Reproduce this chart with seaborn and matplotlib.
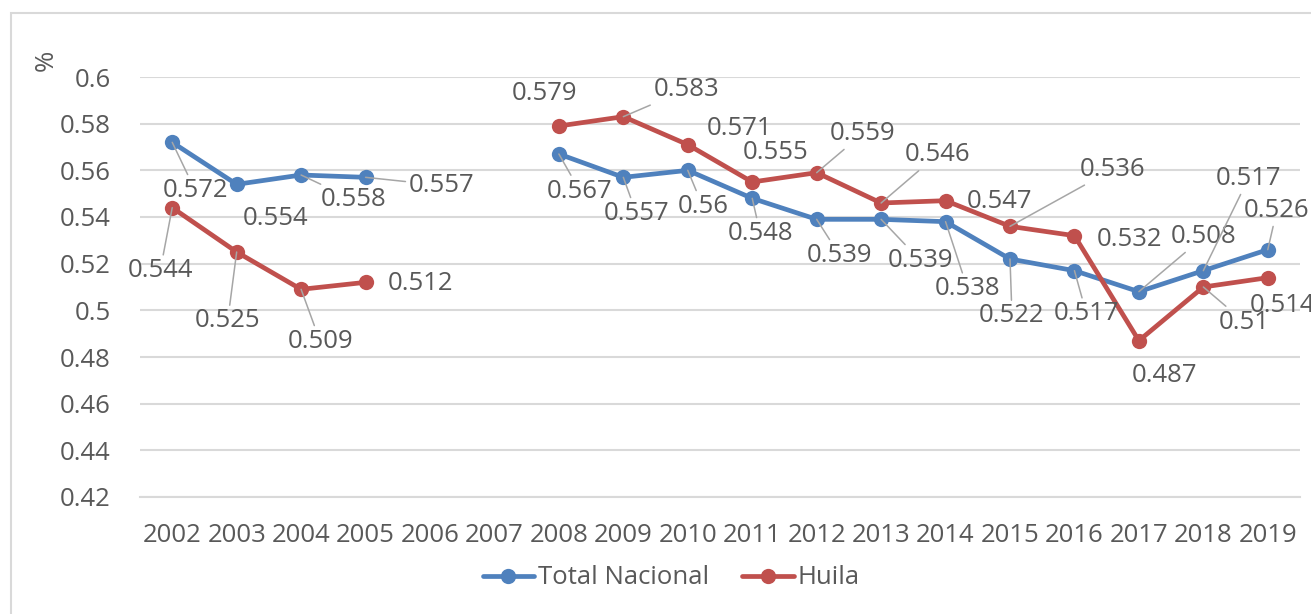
import pandas as pd
import matplotlib.pyplot as plt
from matplotlib.lines import Line2D
from matplotlib.patches import Rectangle
import seaborn as sns

# Data (2006 and 2007 have no values)
years = list(range(2002, 2020))
total_nacional = [0.572, 0.554, 0.558, 0.557, None, None, 0.567, 0.557, 0.56,
                  0.548, 0.539, 0.539, 0.538, 0.522, 0.517, 0.508, 0.517, 0.526]
huila = [0.544, 0.525, 0.509, 0.512, None, None, 0.579, 0.583, 0.571,
         0.555, 0.559, 0.546, 0.547, 0.536, 0.532, 0.487, 0.51, 0.514]
series_names = ["Total Nacional", "Huila"]
y_ticks = [0.42, 0.44, 0.46, 0.48, 0.5, 0.52, 0.54, 0.56, 0.58, 0.6]

# -----------------------
# label placement (pixel offsets from each point, leader line yes/no)
# -----------------------
total_offsets = [(23, -48, 1), (39, -34, 0), (53, -25, 1), (76, -8, 1), None, None,
                 (21, -37, 1), (13, -36, 1), (15, -36, 1), (8, -35, 1), (23, -36, 1),
                 (39, -41, 1), (22, -67, 1), (2, -57, 1), (12, -43, 1), (65, 55, 1),
                 (45, 92, 1), (9, 39, 1)]
huila_offsets = [(-12, -63, 1), (-9, -69, 1), (19, -52, 1), (55, -1, 0), None, None,
                 (-14, 33, 0), (63, 27, 1), (52, 16, 0), (23, 29, 0), (46, 39, 1),
                 (56, 48, 1), (54, -1, 0), (103, 57, 1), (55, -4, 0), (26, -35, 0),
                 (41, -35, 1), (15, -28, 0)]

colors = {"Total Nacional": "#4F81BD", "Huila": "#C0504D"}
text_color = "#595959"
grid_color = "#D9D9D9"
fs = 18.5

# long table, with a segment id so the gap 2006-2007 is not bridged
rows = []
for name, vals in zip(series_names, [total_nacional, huila]):
    for yr, v in zip(years, vals):
        if v is None:
            continue
        rows.append({"year": yr, "value": v, "serie": name,
                     "segment": f"{name}-{'a' if yr < 2006 else 'b'}"})
df = pd.DataFrame(rows)

sns.set_style("white")
plt.rcParams["font.family"] = ["Open Sans", "DejaVu Sans"]

fig = plt.figure(figsize=(13.11, 6.14), dpi=100)
ax = fig.add_axes([140 / 1311, 1 - 497 / 614, 1160 / 1311, 420 / 614])

sns.lineplot(data=df, x="year", y="value", hue="serie", units="segment",
             estimator=None, palette=colors, hue_order=series_names,
             marker="o", markersize=11, markeredgewidth=0, linewidth=3.4,
             legend=False, ax=ax, zorder=3)

ax.set_xlim(2001.5, 2019.5)
ax.set_ylim(0.42, 0.6)
ax.set_yticks(y_ticks)
ax.set_yticklabels([f"{t:g}" for t in y_ticks])
ax.set_xticks(years)
ax.set_xticklabels([str(y) for y in years])
ax.set_xticks([y - 0.5 for y in years] + [years[-1] + 0.5], minor=True)
ax.tick_params(axis="x", which="major", length=0, pad=19, labelsize=fs, colors=text_color)
ax.tick_params(axis="x", which="minor", length=7, width=1.5, color=grid_color, direction="out")
ax.tick_params(axis="y", length=0, pad=21, labelsize=fs, colors=text_color)
ax.set_xlabel("")
ax.set_ylabel("")

ax.grid(axis="y", color=grid_color, linewidth=1.5)
ax.grid(axis="x", visible=False)
for s in ["left", "right", "top"]:
    ax.spines[s].set_visible(False)
ax.spines["bottom"].set_color(grid_color)
ax.spines["bottom"].set_linewidth(1.5)
ax.set_axisbelow(True)

# data labels
for vals, offs in [(total_nacional, total_offsets), (huila, huila_offsets)]:
    for yr, v, off in zip(years, vals, offs):
        if v is None:
            continue
        dx, dy, leader = off
        arrow = None
        if leader:
            arrow = dict(arrowstyle="-", color="#A6A6A6", lw=1.1, shrinkA=0, shrinkB=0)
        ax.annotate(f"{v:g}", xy=(yr, v), xytext=(dx, dy), textcoords="offset pixels",
                    ha="center", va="center", fontsize=fs, color=text_color,
                    arrowprops=arrow, annotation_clip=False, zorder=4)

fig.text(46 / 1311, 1 - 60 / 614, "%", rotation=90, ha="center", va="center",
         fontsize=fs, color=text_color)

handles = [Line2D([], [], color=colors[n], marker="o", markersize=11, linewidth=3.4,
                  markeredgewidth=0) for n in series_names]
fig.legend(handles, series_names, loc="center", bbox_to_anchor=(0.512, 1 - 578 / 614),
           ncol=2, frameon=False, fontsize=fs, labelcolor=text_color,
           handlelength=2.0, columnspacing=1.3, handletextpad=0.15)

# chart area border
fig.patches.append(Rectangle((11 / 1311, -0.1), 1.2, 1 - 13 / 614 + 0.1,
                             transform=fig.transFigure, fill=False,
                             edgecolor=grid_color, linewidth=1.5))

plt.savefig("out.png", dpi=100)
plt.close()
